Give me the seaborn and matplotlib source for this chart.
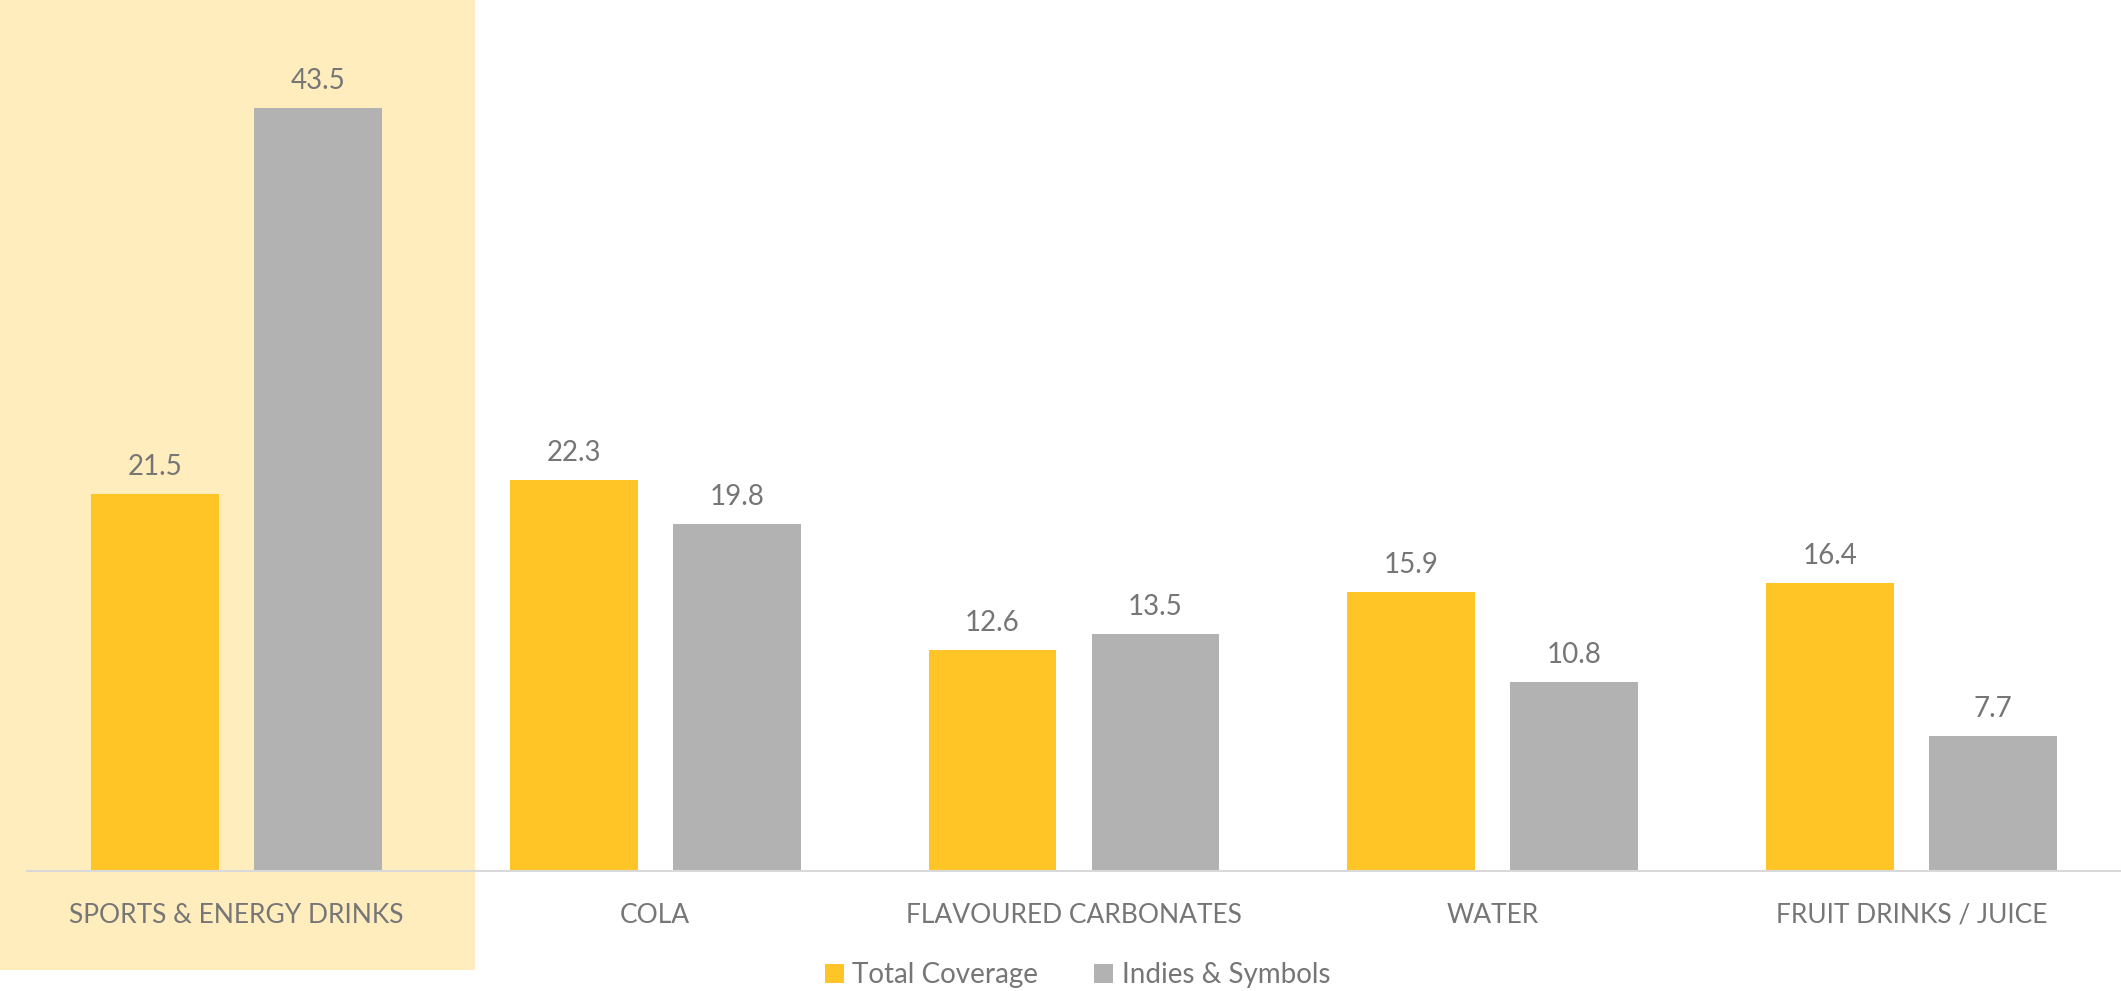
import pandas as pd
import seaborn as sns
import matplotlib.pyplot as plt
from matplotlib.patches import Rectangle

categories = ["SPORTS & ENERGY DRINKS", "COLA", "FLAVOURED CARBONATES", "WATER", "FRUIT DRINKS / JUICE"]
series = ["Total Coverage", "Indies & Symbols"]
total_coverage = [21.5, 22.3, 12.6, 15.9, 16.4]
indies_symbols = [43.5, 19.8, 13.5, 10.8, 7.7]

df = pd.DataFrame({
    "category": categories * 2,
    "series": [series[0]] * len(categories) + [series[1]] * len(categories),
    "value": total_coverage + indies_symbols,
})

sns.set_style("white")
plt.rcParams["font.family"] = ["Lato", "DejaVu Sans"]
txt = "#767676"

fig = plt.figure(figsize=(21.21, 9.91), dpi=100)
# highlight behind the first category
fig.add_artist(Rectangle((0, 0.021), 0.224, 0.979, transform=fig.transFigure,
                         facecolor="#FFEDBE", edgecolor="none", zorder=-1))

ax = fig.add_axes([27 / 2121, 1 - 871 / 991, 1 - 27 / 2121, 871 / 991])
ax.patch.set_alpha(0)
sns.barplot(df, x="category", y="value", hue="series", order=categories, hue_order=series,
            palette=["#FFC425", "#B2B2B2"], saturation=1, width=0.778, gap=0.216,
            errorbar=None, linewidth=0, ax=ax)

for c in ax.containers:
    ax.bar_label(c, fmt="%.1f", padding=10, fontsize=20, color=txt)

ax.set_xlim(-0.5, 4.5)
ax.set_ylim(0, 49.66)
ax.set(xlabel="", ylabel="", yticks=[])
for s in ["top", "left", "right"]:
    ax.spines[s].set_visible(False)
ax.spines["bottom"].set_color("#D9D9D9")
ax.spines["bottom"].set_linewidth(1.5)
ax.tick_params(axis="x", length=0, pad=23, labelsize=19, labelcolor=txt)

handles, labels = ax.get_legend_handles_labels()
ax.get_legend().remove()
leg = fig.legend(handles, labels, loc="center", bbox_to_anchor=(0.508, 0.016), ncol=2,
                 frameon=False, fontsize=20, handlelength=0.7, handleheight=0.7,
                 handletextpad=0.3, columnspacing=2.0)
for t in leg.get_texts():
    t.set_color(txt)

fig.savefig("out.png", dpi=100)
